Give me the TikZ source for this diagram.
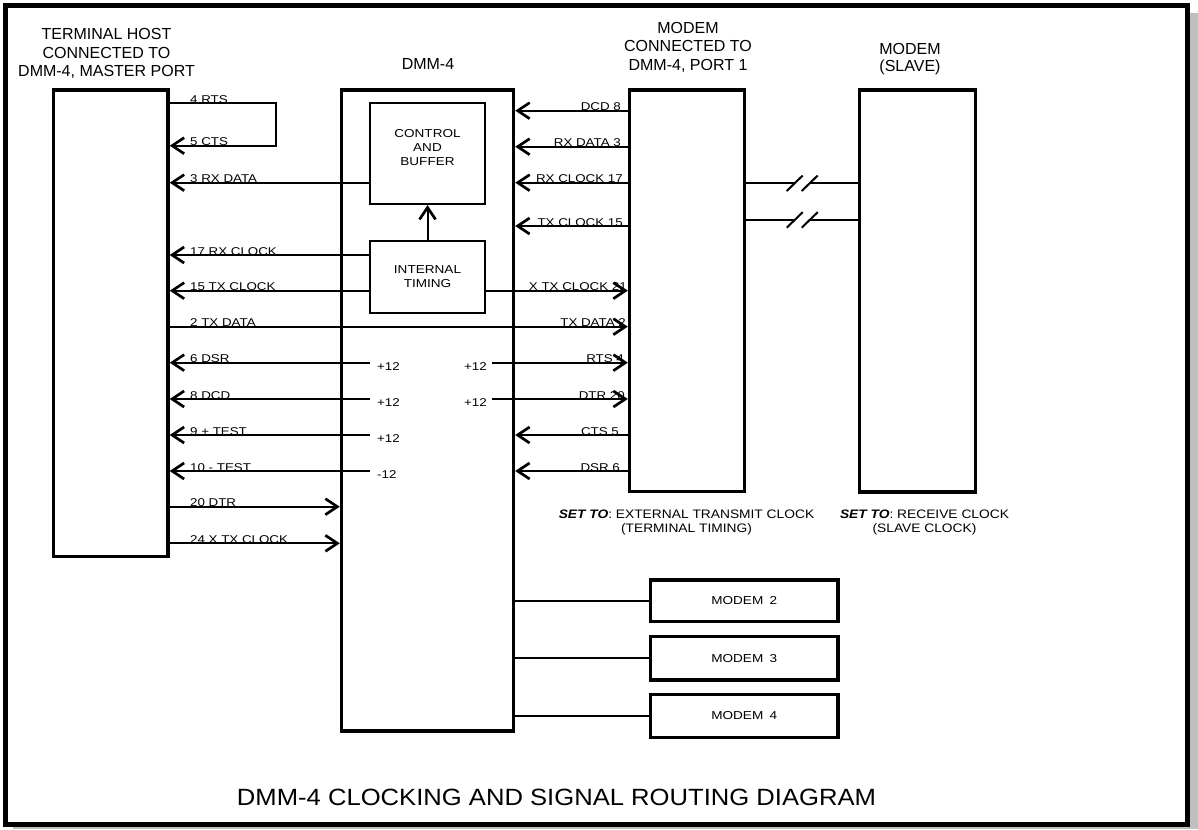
\documentclass[tikz,border=0pt]{standalone}
\usepackage{fontspec}
\setmainfont{Liberation Sans}
\newfontfamily\lblfont[FakeStretch=1.18]{Liberation Sans}
\newfontfamily\setfont[FakeStretch=1.12]{Liberation Sans}
\newfontfamily\bigfont[FakeStretch=1.09]{Liberation Sans}
\usetikzlibrary{arrows.meta}
\begin{document}
\begin{tikzpicture}[x=1pt,y=-1pt,
  box/.style={draw, line width=3.4pt, rectangle, inner sep=0pt},
  inbox/.style={draw, line width=2pt, rectangle, inner sep=0pt, align=center,
     font=\lblfont\fontsize{11.5}{14}\selectfont},
  mbox/.style={draw, line width=3.8pt, rectangle, inner sep=0pt,
     minimum width=187.5pt, font=\lblfont\fontsize{11.5}{14}\selectfont},
  sig/.style={line width=2pt},
  thinsig/.style={line width=1.7pt},
  arr/.style={sig, -{Straight Barb[length=12pt,width=16pt,line width=2.7pt]}},
  lab/.style={font=\lblfont\fontsize{11.3}{13}\selectfont, inner sep=0pt},
  volt/.style={font=\lblfont\fontsize{11.3}{13}\selectfont, inner ysep=0pt},
  ttl/.style={font=\fontsize{16}{18.5}\selectfont, align=center, inner sep=0pt},
  note/.style={font=\setfont\fontsize{12.3}{14}\selectfont, align=center, inner sep=0pt},
]
\useasboundingbox (0,0) rectangle (1198,829);
% frame with shadow
\fill[gray!50] (13,13) rectangle (1198,829);
\draw[line width=5pt, fill=white] (5.5,5.5) rectangle (1187.5,824);

% titles
\node[ttl, anchor=north] (termT) at (106.5,28.3) {TERMINAL HOST\\CONNECTED TO\\DMM-4, MASTER PORT};
\node[ttl, anchor=base] (dmmT) at (428,70) {DMM-4};
\node[ttl, anchor=north] (mod1T) at (688,21.7) {MODEM\\CONNECTED TO\\DMM-4, PORT 1};
\node[ttl, anchor=north, font=\fontsize{16}{17}\selectfont] (slaveT) at (910,43.5) {MODEM\\(SLAVE)};

% main boxes
\node[box, minimum width=114.5pt, minimum height=466.5pt] (term) at (110.75,323.25) {};
\node[box, minimum width=172pt, minimum height=641pt] (dmm) at (427.5,410.5) {};
\node[box, minimum width=115pt, minimum height=401.5pt] (mod1) at (687,290.75) {};
\node[box, minimum width=116pt, minimum height=402pt] (slave) at (917.5,291) {};

% inner boxes
\node[inbox, minimum width=115pt, minimum height=100.5pt] (ctrl) at (427.5,153.75) {};
\node[align=center, inner sep=0pt, font=\lblfont\fontsize{11.5}{14}\selectfont] (ctrlT) at (427.5,148) {CONTROL\\AND\\BUFFER};
\node[inbox, minimum width=115pt, minimum height=71.5pt] (tim) at (427.5,276.75) {INTERNAL\\TIMING};
\draw[arr] (tim.north) -- (ctrl.south);

% modems 2-4
\node[mbox, minimum height=41.5pt] (m2) at (744.25,600.75) {MODEM\hspace{0.55em}2};
\node[mbox, minimum height=43.5pt] (m3) at (744.25,658.25) {MODEM\hspace{0.55em}3};
\node[mbox, minimum height=43pt] (m4) at (744.25,716) {MODEM\hspace{0.55em}4};
\draw[thinsig] (dmm.east |- m2.west) -- (m2.west);
\draw[thinsig] (dmm.east |- m3.west) -- (m3.west);
\draw[thinsig] (dmm.east |- m4.west) -- (m4.west);

% voltage sources
\node[volt, anchor=west, inner xsep=7pt] (vL1) at (370,366.2) {+12};
\node[volt, anchor=west, inner xsep=7pt] (vL2) at (370,402.5) {+12};
\node[volt, anchor=west, inner xsep=7pt] (vL3) at (370,438.5) {+12};
\node[volt, anchor=west, inner xsep=7pt] (vL4) at (370,474.5) {-12};
\node[volt, anchor=east, inner xsep=4.7pt] (vR1) at (491.7,366.2) {+12};
\node[volt, anchor=east, inner xsep=4.7pt] (vR2) at (491.7,402.5) {+12};

% left side signals
\coordinate (rtsloop) at (276,145.7);
\draw[arr] (term.east |- 0,103.3) -| (rtsloop) -- (term.east |- rtsloop);
\draw[arr] (ctrl.west |- 0,182.7) -- (term.east |- 0,182.7);
\draw[arr] (tim.west |- 0,255) -- (term.east |- 0,255);
\draw[arr] (tim.west |- 0,290.7) -- (term.east |- 0,290.7);
\draw[arr] (term.east |- 0,326.7) -- (mod1.west |- 0,326.7);
\draw[arr] (vL1.west |- 0,362.7) -- (term.east |- 0,362.7);
\draw[arr] (vL2.west |- 0,399) -- (term.east |- 0,399);
\draw[arr] (vL3.west |- 0,435) -- (term.east |- 0,435);
\draw[arr] (vL4.west |- 0,471) -- (term.east |- 0,471);
\draw[arr] (term.east |- 0,506.7) -- (dmm.west |- 0,506.7);
\draw[arr] (term.east |- 0,543.3) -- (dmm.west |- 0,543.3);

\node[lab, anchor=base west] (l1) at (190,103.3) {4 RTS};
\node[lab, anchor=base west] (l2) at (190,145.7) {5 CTS};
\node[lab, anchor=base west] (l3) at (190,182.7) {3 RX DATA};
\node[lab, anchor=base west] (l4) at (190,255) {17 RX CLOCK};
\node[lab, anchor=base west] (l5) at (190,290.7) {15 TX CLOCK};
\node[lab, anchor=base west] (l6) at (190,326.7) {2 TX DATA};
\node[lab, anchor=base west] (l7) at (190,362.7) {6 DSR};
\node[lab, anchor=base west] (l8) at (190,399) {8 DCD};
\node[lab, anchor=base west] (l9) at (190,435) {9 + TEST};
\node[lab, anchor=base west] (l10) at (190,471) {10 - TEST};
\node[lab, anchor=base west] (l11) at (190,506.7) {20 DTR};
\node[lab, anchor=base west] (l12) at (190,543.3) {24 X TX CLOCK};

% right side signals
\draw[arr] (mod1.west |- 0,110.7) -- (dmm.east |- 0,110.7);
\draw[arr] (mod1.west |- 0,146.7) -- (dmm.east |- 0,146.7);
\draw[arr] (mod1.west |- 0,182.7) -- (dmm.east |- 0,182.7);
\draw[arr] (mod1.west |- 0,226) -- (dmm.east |- 0,226);
\draw[arr] (tim.east |- 0,290.7) -- (mod1.west |- 0,290.7);
\draw[arr] (vR1.east |- 0,362.7) -- (mod1.west |- 0,362.7);
\draw[arr] (vR2.east |- 0,399) -- (mod1.west |- 0,399);
\draw[arr] (mod1.west |- 0,435) -- (dmm.east |- 0,435);
\draw[arr] (mod1.west |- 0,471) -- (dmm.east |- 0,471);

\node[lab, anchor=base east] (r1) at (621,110.7) {DCD 8};
\node[lab, anchor=base east] (r2) at (621,146.7) {RX DATA 3};
\node[lab, anchor=base east] (r3) at (623,182.7) {RX CLOCK 17};
\node[lab, anchor=base east] (r4) at (623,226) {TX CLOCK 15};
\node[lab, anchor=base east] (r5) at (627,290.7) {X TX CLOCK 21};
\node[lab, anchor=base east] (r6) at (626,326.7) {TX DATA 2};
\node[lab, anchor=base east] (r7) at (624,362.7) {RTS 4};
\node[lab, anchor=base east] (r8) at (625,399) {DTR 20};
\node[lab, anchor=base east] (r9) at (619,435) {CTS 5};
\node[lab, anchor=base east] (r10) at (620,471) {DSR 6};

% links modem 1 to slave modem, with break marks
\coordinate (bA1) at (794.5,183.3);
\coordinate (bA2) at (809.5,183.3);
\coordinate (bB1) at (794.5,220);
\coordinate (bB2) at (809.5,220);
\draw[thinsig] (mod1.east |- bA1) -- (bA1);
\draw[thinsig] (bA2) -- (slave.west |- bA2);
\draw[thinsig] (mod1.east |- bB1) -- (bB1);
\draw[thinsig] (bB2) -- (slave.west |- bB2);
\draw[sig] (786.7,191) -- (802.7,175.5);
\draw[sig] (801.7,191) -- (817.7,175.5);
\draw[sig] (786.7,227.7) -- (802.7,212.2);
\draw[sig] (801.7,227.7) -- (817.7,212.2);

% settings notes
\node[note, anchor=north] (n1) at (686.5,509.5) {\textbf{\textit{SET TO}}: EXTERNAL TRANSMIT CLOCK\\(TERMINAL TIMING)};
\node[note, anchor=north] (n2) at (924.5,509.5) {\textbf{\textit{SET TO}}: RECEIVE CLOCK\\(SLAVE CLOCK)};

% caption
\node[font=\bigfont\fontsize{23.5}{26}\selectfont, anchor=base, inner sep=0pt] (cap) at (556.5,805) {DMM-4 CLOCKING AND SIGNAL ROUTING DIAGRAM};
\end{tikzpicture}
\end{document}
